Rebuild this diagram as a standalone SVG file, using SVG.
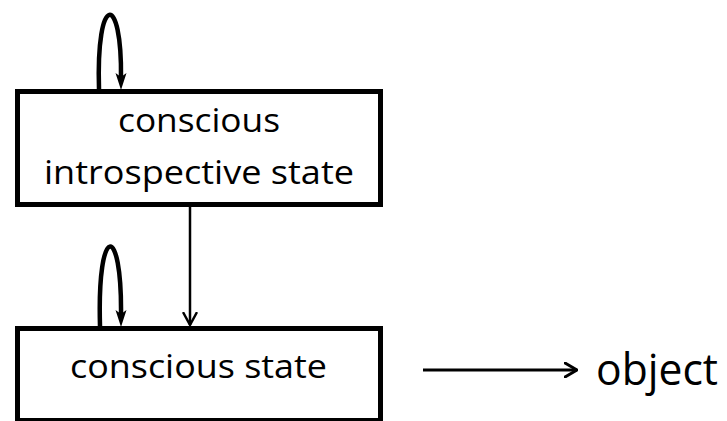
<svg xmlns="http://www.w3.org/2000/svg" width="727" height="421" viewBox="0 0 727 421">
<defs>
<style>
.box{fill:#fff;stroke:#000;stroke-width:5}
.lbl{font-family:"Open Sans","Liberation Sans",sans-serif;fill:#000;text-anchor:middle}
.loop{fill:none;stroke:#000;stroke-width:4.5}
.arr{fill:none;stroke:#000;stroke-width:2.5}
.head{fill:#000}
</style>
<marker id="open" markerUnits="userSpaceOnUse" viewBox="0 0 14 16" refX="13" refY="8" markerWidth="14" markerHeight="16" orient="auto">
<path d="M1,1 L13,8 L1,15" fill="none" stroke="#000" stroke-width="3" stroke-linecap="round" stroke-linejoin="round"/>
</marker>
<marker id="open2" markerUnits="userSpaceOnUse" viewBox="0 0 14 16" refX="13" refY="8" markerWidth="14" markerHeight="16" orient="auto">
<path d="M1,1.5 L13,8 L1,14.5" fill="none" stroke="#000" stroke-width="2.5" stroke-linecap="round" stroke-linejoin="round"/>
</marker>
</defs>
<rect width="727" height="421" fill="#fff"/>
<g id="node-introspective">
<rect class="box" x="17.5" y="91.5" width="363" height="113"/>
<text class="lbl" x="199" y="132" font-size="32" textLength="162" lengthAdjust="spacingAndGlyphs">conscious</text>
<text class="lbl" x="199" y="184" font-size="32" textLength="310" lengthAdjust="spacingAndGlyphs">introspective state</text>
</g>
<g id="node-conscious">
<rect class="box" x="17.5" y="328.5" width="363" height="92"/>
<text class="lbl" x="198.5" y="378" font-size="32" textLength="257" lengthAdjust="spacingAndGlyphs">conscious state</text>
</g>
<g id="node-object">
<text class="lbl" x="657" y="385" font-size="43" textLength="122" lengthAdjust="spacingAndGlyphs">object</text>
</g>
<g id="connectors">
<path class="loop" d="M99,89 C96,-8 122,-8 121,78"/>
<path class="head" d="M121,90 L115.5,73 L121,77 L126.5,73 Z"/>
<path class="loop" d="M100,326 C97,222 122,222 121,315"/>
<path class="head" d="M121,327 L115.5,310 L121,314 L126.5,310 Z"/>
<line class="arr" x1="190" y1="207" x2="190" y2="325" marker-end="url(#open2)"/>
<line class="arr" x1="423" y1="370" x2="577" y2="370" style="stroke-width:3" marker-end="url(#open)"/>
</g>
</svg>
